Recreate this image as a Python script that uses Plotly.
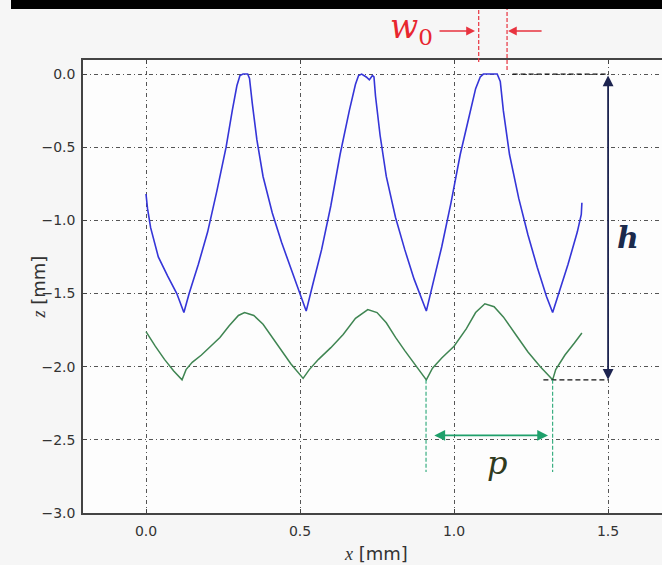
import plotly.graph_objects as go

# ---------------- data ----------------
blue_x = [0.0, 0.005, 0.015, 0.04, 0.07, 0.10, 0.123, 0.14, 0.17, 0.20, 0.23, 0.26, 0.28, 0.295, 0.305,
          0.315, 0.33, 0.336, 0.345, 0.36, 0.38, 0.41, 0.44, 0.47, 0.50, 0.52, 0.54, 0.57, 0.60, 0.63,
          0.66, 0.68, 0.69, 0.70, 0.715, 0.725, 0.735, 0.74, 0.745, 0.76, 0.78, 0.81, 0.84, 0.87, 0.91,
          0.93, 0.96, 0.99, 1.02, 1.05, 1.07, 1.085, 1.095, 1.14, 1.15, 1.16, 1.18, 1.21, 1.24, 1.27,
          1.30, 1.32, 1.34, 1.37, 1.40, 1.413, 1.415]
blue_z = [-0.82, -0.92, -1.05, -1.25, -1.38, -1.50, -1.63, -1.50, -1.30, -1.08, -0.80, -0.50, -0.25, -0.08, -0.01,
          0.0, 0.0, -0.03, -0.20, -0.45, -0.70, -0.95, -1.15, -1.33, -1.50, -1.62, -1.45, -1.20, -0.90, -0.55,
          -0.25, -0.07, -0.01, 0.0, -0.02, -0.04, -0.01, -0.02, -0.15, -0.42, -0.70, -0.98, -1.20, -1.40, -1.62,
          -1.45, -1.18, -0.88, -0.55, -0.28, -0.10, -0.02, 0.0, 0.0, -0.05, -0.25, -0.55, -0.85, -1.10, -1.32,
          -1.52, -1.63, -1.50, -1.30, -1.08, -0.96, -0.88]

green_x = [0.0, 0.03, 0.06, 0.09, 0.117, 0.13, 0.15, 0.18, 0.21, 0.24, 0.27, 0.30, 0.32, 0.35, 0.38, 0.41,
           0.44, 0.47, 0.51, 0.53, 0.56, 0.60, 0.64, 0.68, 0.72, 0.75, 0.78, 0.81, 0.84, 0.88, 0.91, 0.93,
           0.96, 1.00, 1.04, 1.07, 1.10, 1.13, 1.16, 1.20, 1.24, 1.28, 1.32, 1.33, 1.36, 1.39, 1.415]
green_z = [-1.76, -1.86, -1.95, -2.03, -2.09, -2.02, -1.97, -1.92, -1.86, -1.80, -1.72, -1.65, -1.63, -1.65,
           -1.71, -1.80, -1.89, -1.98, -2.08, -2.02, -1.95, -1.87, -1.78, -1.67, -1.61, -1.63, -1.70, -1.80,
           -1.89, -2.00, -2.09, -2.01, -1.94, -1.86, -1.74, -1.63, -1.57, -1.59, -1.66, -1.78, -1.90, -2.00,
           -2.09, -2.02, -1.92, -1.84, -1.77]

x_ticks = [0.0, 0.5, 1.0, 1.5]
z_ticks = [0.0, -0.5, -1.0, -1.5, -2.0, -2.5, -3.0]

# annotation values (data space)
w0_left, w0_right = 1.08, 1.172
h_x, h_top, h_bottom = 1.5, 0.0, -2.09
h_top_start, h_bot_start = 1.19, 1.29
p_left, p_right, p_z = 0.909, 1.32, -2.47
p_line_bottom = -2.72

# ---------------- layout geometry ----------------
W, H = 662, 565
ML, MR, MT, MB = 83, 0, 60, 52
PW, PH = W - ML - MR, H - MT - MB
X_RANGE = [-0.2045, 1.675]
Y_RANGE = [-3.0, 0.096]


def px_x(px):
    return (px - ML) / PW


def px_y(py):
    return (H - MB - py) / PH


fig = go.Figure()
fig.add_trace(go.Scatter(x=blue_x, y=blue_z, mode="lines",
                         line=dict(color="#3535d8", width=1.6), showlegend=False))
fig.add_trace(go.Scatter(x=green_x, y=green_z, mode="lines",
                         line=dict(color="#3f8552", width=1.5), showlegend=False))

shapes = []
# black band on top
shapes.append(dict(type="rect", xref="paper", yref="paper", x0=px_x(11), x1=px_x(662),
                   y0=px_y(9), y1=px_y(0), fillcolor="black", line=dict(width=0), layer="above"))
# red w0 dashed lines
for xv, ybot in [(w0_left, 62), (w0_right, 70)]:
    shapes.append(dict(type="line", xref="x", yref="paper", x0=xv, x1=xv, y0=px_y(ybot), y1=px_y(9),
                       line=dict(color="#e8333f", width=1.2, dash="4px,2px")))
# black dashed h guides
shapes.append(dict(type="line", xref="x", yref="y", x0=h_top_start, x1=h_x, y0=h_top, y1=h_top,
                   line=dict(color="#111", width=1.3, dash="5px,3px")))
shapes.append(dict(type="line", xref="x", yref="y", x0=h_bot_start, x1=h_x, y0=h_bottom, y1=h_bottom,
                   line=dict(color="#111", width=1.3, dash="5px,3px")))
# green p guides
for xv in [p_left, p_right]:
    shapes.append(dict(type="line", xref="x", yref="y", x0=xv, x1=xv, y0=h_bottom, y1=p_line_bottom,
                       line=dict(color="#2aa878", width=1.1, dash="4px,2px")))

annotations = []
# h arrow
annotations.append(dict(x=h_x, y=h_bottom, ax=h_x, ay=h_top, xref="x", yref="y", axref="x", ayref="y",
                        showarrow=True, arrowhead=2, arrowsize=1.2, arrowwidth=1.8, arrowside="end+start",
                        arrowcolor="#1d2450", text=""))
annotations.append(dict(x=1.565, y=-1.12, xref="x", yref="y", showarrow=False,
                        text="<b><i>h</i></b>",
                        font=dict(family="DejaVu Serif", size=30, color="#1b2a4c")))
# p arrow
annotations.append(dict(x=p_right - 0.015, y=p_z, ax=p_left + 0.022, ay=p_z, xref="x", yref="y", axref="x",
                        ayref="y", showarrow=True, arrowhead=2, arrowsize=1.2, arrowwidth=1.8,
                        arrowside="end+start", arrowcolor="#1fa06b", text=""))
annotations.append(dict(x=1.14, y=-2.66, xref="x", yref="y", showarrow=False,
                        text="<i>p</i>",
                        font=dict(family="DejaVu Serif", size=32, color="#2f3b1f")))
# w0 arrows and label
annotations.append(dict(x=1.068, y=px_y(31), ax=0.948, ay=0, xref="x", yref="paper", axref="x",
                        ayref="pixel", showarrow=True, arrowhead=2, arrowsize=1.1, arrowwidth=1.6,
                        arrowcolor="#e8333f", text=""))
annotations.append(dict(x=1.175, y=px_y(31), ax=1.289, ay=0, xref="x", yref="paper", axref="x",
                        ayref="pixel", showarrow=True, arrowhead=2, arrowsize=1.1, arrowwidth=1.6,
                        arrowcolor="#e8333f", text=""))
annotations.append(dict(x=0.862, y=px_y(52), xref="x", yref="paper", showarrow=False,
                        yanchor="bottom",
                        text="<i>w</i><sub>0</sub>",
                        font=dict(family="DejaVu Serif", size=33, color="#e8262f")))
# axis titles
annotations.append(dict(x=px_x(376), y=px_y(566), xref="paper", yref="paper", showarrow=False,
                        yanchor="bottom",
                        text="<i><span style='font-family:Liberation Serif'>x</span></i> [mm]",
                        font=dict(family="DejaVu Sans", size=18, color="#333")))
annotations.append(dict(x=px_x(25), y=px_y(287), xref="paper", yref="paper", showarrow=False,
                        textangle=-90,
                        text="<i><span style='font-family:Liberation Serif'>z</span></i> [mm]",
                        font=dict(family="DejaVu Sans", size=18, color="#333")))

grid_dash = "4px,3px,1px,3px"
fig.update_layout(
    width=W, height=H,
    margin=dict(l=ML, r=MR, t=MT, b=MB, pad=0),
    paper_bgcolor="#f6f6f6",
    plot_bgcolor="#fdfdfd",
    showlegend=False,
    shapes=shapes,
    annotations=annotations,
    xaxis=dict(range=X_RANGE, tickvals=x_ticks, ticktext=[f"{v:.1f}" for v in x_ticks],
               showgrid=True, gridcolor="#555", gridwidth=1, griddash=grid_dash,
               zeroline=False, showline=True, linecolor="#444", linewidth=1.5, mirror="ticks",
               ticks="inside", ticklen=4, tickcolor="#444", ticklabelstandoff=4,
               tickfont=dict(family="DejaVu Sans", size=14, color="#333")),
    yaxis=dict(range=Y_RANGE, tickvals=z_ticks,
               ticktext=[f"{v:.1f}".replace("-", "\u2212") for v in z_ticks],
               showgrid=True, gridcolor="#555", gridwidth=1, griddash=grid_dash,
               zeroline=False, showline=True, linecolor="#444", linewidth=1.5, mirror=False,
               ticks="inside", ticklen=4, tickcolor="#444", ticklabelstandoff=3,
               tickfont=dict(family="DejaVu Sans", size=14, color="#333")),
)

fig.write_html("out.html")
